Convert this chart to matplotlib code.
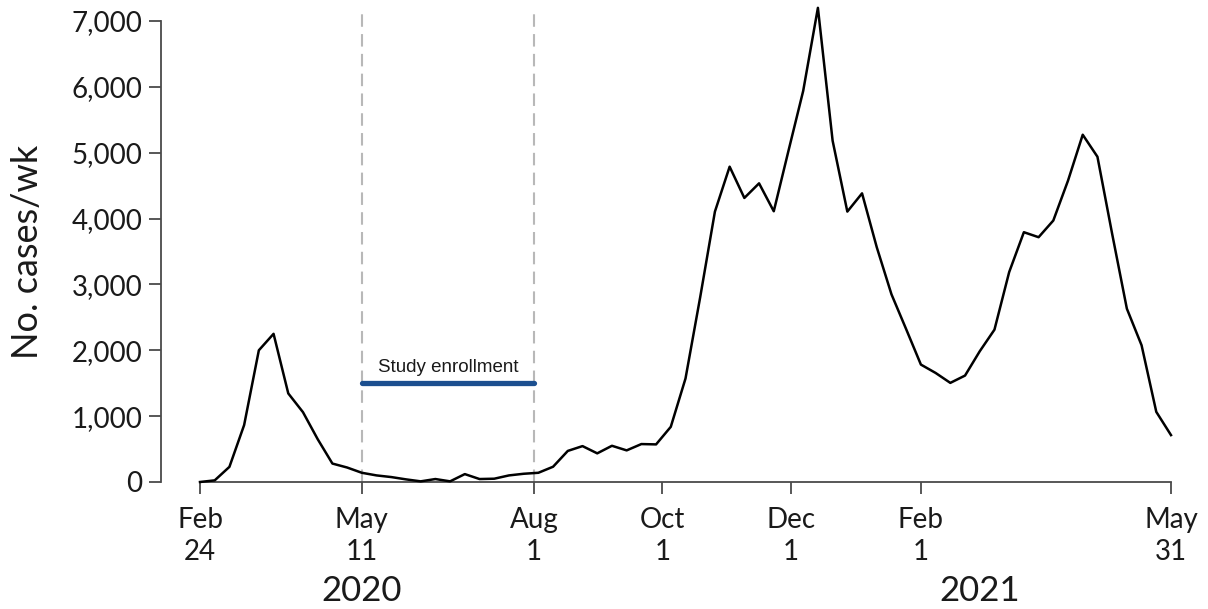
import pandas as pd
import matplotlib.pyplot as plt
import matplotlib.transforms as mtransforms

# casos semanais, semanas a partir de 24 fev 2020
inicio = '2020-02-24'
casos = [0, 25, 230, 865, 2000, 2250, 1345, 1060, 650, 280, 220, 140, 100, 75,
         40, 10, 45, 10, 120, 45, 50, 100, 125, 140, 232, 472, 545, 435, 550,
         480, 576, 571, 838, 1571, 2808, 4106, 4788, 4313, 4535, 4111, 5030,
         5939, 7200, 5182, 4106, 4383, 3565, 2850, 2320, 1783, 1656, 1505,
         1616, 1985, 2313, 3187, 3793, 3717, 3970, 4576, 5273, 4939, 3768,
         2632, 2076, 1065, 712]

tick_datas = ['2020-02-24', '2020-05-11', '2020-08-01', '2020-10-01',
              '2020-12-01', '2021-02-01', '2021-05-31']
tick_rotulos = ['Feb\n24', 'May\n11', 'Aug\n1', 'Oct\n1', 'Dec\n1', 'Feb\n1', 'May\n31']
anos = ['2020', '2021']
anos_pos = ['2020-05-11', '2021-03-01']
estudo_ini, estudo_fim = '2020-05-11', '2020-08-01'
estudo_nivel = 1500
y_ticks = [0, 1000, 2000, 3000, 4000, 5000, 6000, 7000]

df = pd.DataFrame({'semana': pd.date_range(inicio, periods=len(casos), freq='7D'),
                   'casos': casos})

plt.rcParams['font.family'] = ['Lato', 'DejaVu Sans']

fig = plt.figure(figsize=(12.08, 6.09), dpi=100)
ax = fig.add_axes([200/1208, 1 - 482/609, 971/1208, 461/609])

# linhas tracejadas do periodo de inclusao
for d in [estudo_ini, estudo_fim]:
    ax.vlines(pd.Timestamp(d), 0, 7180, colors='#b8b8b8', linewidth=1.5,
              linestyles=(0, (6, 3.5)), clip_on=False, zorder=1)

ax.plot(df['semana'], df['casos'], color='black', linewidth=1.8, clip_on=False, zorder=3)

ax.plot([pd.Timestamp(estudo_ini), pd.Timestamp(estudo_fim)], [estudo_nivel, estudo_nivel],
        color='#1c4f8f', linewidth=3.8, solid_capstyle='round', zorder=2)
meio = pd.Timestamp(estudo_ini) + (pd.Timestamp(estudo_fim) - pd.Timestamp(estudo_ini)) / 2
ax.text(meio, 1667, 'Study enrollment', ha='center', va='baseline',
        fontsize=13.5, family='Liberation Sans', color='#1a1a1a')

ax.set_xlim(pd.Timestamp(tick_datas[0]), pd.Timestamp(tick_datas[-1]))
ax.set_ylim(0, 7000)
ax.set_xticks([pd.Timestamp(d) for d in tick_datas])
ax.set_xticklabels(tick_rotulos, linespacing=1.3)
ax.set_yticks(y_ticks)
ax.set_yticklabels([f'{v:,}' for v in y_ticks])

for s in ['top', 'right']:
    ax.spines[s].set_visible(False)
ax.spines['left'].set_position(('outward', 28))
ax.spines['left'].set_bounds(0, 7000)
for s in ['left', 'bottom']:
    ax.spines[s].set_color('#4a4a4a')
    ax.spines[s].set_linewidth(1.3)

ax.tick_params(axis='both', length=8.6, width=1.3, color='#4a4a4a',
               labelsize=20, labelcolor='#1a1a1a')
ax.tick_params(axis='y', pad=5)
ax.tick_params(axis='x', pad=9.5)

fig.text(28/1208, 1 - 252/609, 'No. cases/wk', rotation=90, ha='center', va='center',
         fontsize=26, color='#1a1a1a')

trans = mtransforms.blended_transform_factory(ax.transData, fig.transFigure)
for ano, pos in zip(anos, anos_pos):
    ax.text(pd.Timestamp(pos), 1 - 591/609, ano, transform=trans, ha='center', va='center',
            fontsize=25, color='#1a1a1a')

fig.savefig('out.png', dpi=100)
